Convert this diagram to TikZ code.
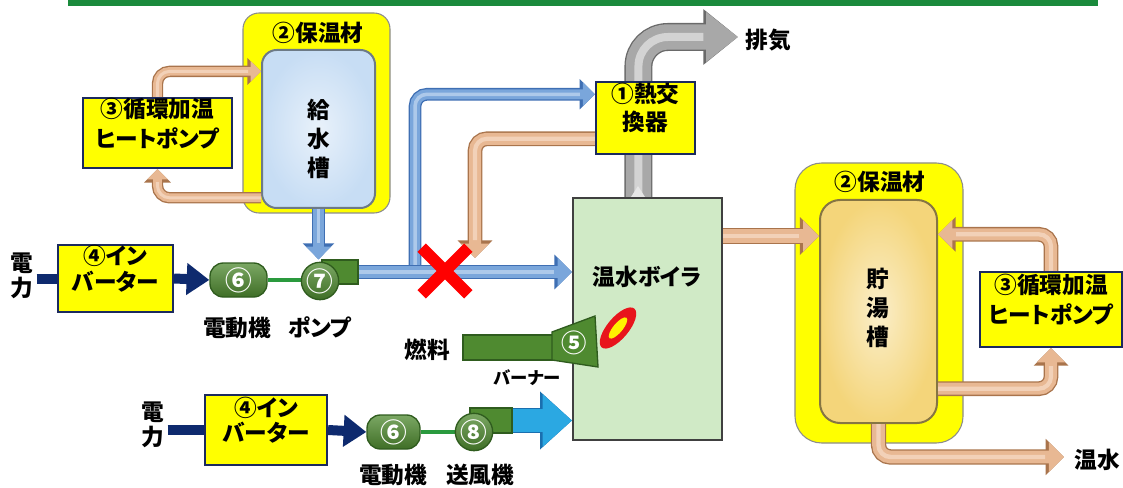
\documentclass[tikz,border=0pt]{standalone}
\usepackage{fontspec}
\setmainfont{Noto Sans CJK JP}[RawFeature=+palt]
\usepackage{tikz}
\usetikzlibrary{arrows.meta,positioning,fit,calc,shapes.misc}
\definecolor{PlantHeader}{HTML}{1A8A3C}
\definecolor{PlantYellow}{HTML}{FFFF00}
\definecolor{PlantNavy}{HTML}{1B2A5E}
\definecolor{PlantArrow}{HTML}{0E2A6E}
\definecolor{PlantTankBlue}{HTML}{C7DDF4}
\definecolor{PlantTankGold}{HTML}{F4D57A}
\definecolor{PlantBoiler}{HTML}{D0EAC6}
\definecolor{PlantMotor}{HTML}{4F8A30}
\definecolor{PlantMotorDark}{HTML}{2F5C1E}
\definecolor{PlantShaft}{HTML}{2A9A3E}
\definecolor{PlantBlue}{HTML}{7AA6DB}
\definecolor{PlantBlueDark}{HTML}{3F6FB3}
\definecolor{PlantBlueLight}{HTML}{D8E7F8}
\definecolor{PlantTan}{HTML}{E8B893}
\definecolor{PlantTanDark}{HTML}{A9744C}
\definecolor{PlantTanLight}{HTML}{FBE7D8}
\definecolor{PlantGrey}{HTML}{A8A8A8}
\definecolor{PlantGreyDark}{HTML}{6A6A6A}
\definecolor{PlantGreyLight}{HTML}{E6E6E6}
\definecolor{PlantAir}{HTML}{2BA8E2}
\definecolor{PlantAirDark}{HTML}{1A6FAF}
\definecolor{PlantRed}{HTML}{FF0000}
\definecolor{PlantFlame}{HTML}{E8141C}
\definecolor{PlantFlameCore}{HTML}{FFF200}

\begin{document}
\begin{tikzpicture}[
  x=0.75pt,
  y=-0.75pt,
  every node/.style={inner sep=0pt, font=\fontsize{17}{21}\selectfont\bfseries},
  insul/.style={draw=black!45, line width=0.8pt, fill=PlantYellow, rounded corners=12pt},
  tag/.style={draw=PlantNavy, line width=1.6pt, fill=PlantYellow, align=center},
  tank/.style={draw=#1!55!black, line width=1.5pt, inner color=#1!40!white, outer color=#1, rounded corners=11pt},
  digit/.style={text=white, font=\fontsize{20}{20}\selectfont\bfseries},
  motor/.style={draw=PlantMotorDark, line width=1pt, top color=PlantMotor!75!white, bottom color=PlantMotor!80!black, rounded corners=10pt, label={[digit]center:#1}},
  rotor/.style={circle, draw=PlantMotorDark, line width=1pt, top color=PlantMotor!75!white, bottom color=PlantMotor!80!black, minimum size=28pt, label={[digit]center:#1}},
  nozzle/.style={draw=PlantMotorDark, line width=1pt, fill=PlantMotor},
  shaft/.style={draw=PlantShaft, line width=2.5pt},
  pipe/.style n args={4}{draw=#1, line width=#3, rounded corners=9pt,
    -{Triangle[length=0pt 1.2, width=0pt 2.3]},
    preaction={draw=#2, line width=#3+2pt, -{Triangle[length=0pt 1.2, width=0pt 2.3]}},
    postaction={draw=#4, opacity=0.55, line width=0.35*#3, arrows=-, shorten >=1.5*#3}},
  bluepipe/.style={pipe={PlantBlue}{PlantBlueDark}{#1}{PlantBlueLight}},
  tanpipe/.style={pipe={PlantTan}{PlantTanDark}{#1}{PlantTanLight}},
  exhaust/.style={draw=PlantGrey, line width=19pt, rounded corners=22pt,
    -{Triangle[length=24pt, width=36pt]},
    preaction={draw=PlantGreyDark, line width=21pt, -{Triangle[length=26pt, width=40pt]}},
    postaction={draw=PlantGreyLight, opacity=0.7, line width=6pt, arrows=-, shorten >=26pt}},
  airflow/.style={draw=PlantAir, line width=17pt, -{Triangle[length=22pt, width=38pt]},
    preaction={draw=PlantAirDark, line width=19pt, -{Triangle[length=24pt, width=42pt]}}},
  power/.style={draw=PlantArrow, line width=7.5pt},
  drive/.style={draw=PlantArrow, line width=7.5pt, -{Triangle[length=17pt, width=23pt]}},
  valve/.style={cross out, draw=PlantRed, line width=9pt, minimum size=26pt}
]
\useasboundingbox (0,0) rectangle (1123,488);
\fill[PlantHeader] (68,0) rectangle (1098,6);

% feed water side
\node[insul, fit={(243,13) (390,213)}] (feedins) {};
\node (feedinsname) at (318,33) {②保温材};
\node[tank=PlantTankBlue, fit={(262,50) (375,208)}] (feedtank) {};
\node[align=center, font=\fontsize{17}{22}\selectfont\bfseries] (feedtankname) at (319,139) {給\\水\\槽};
\node[tag, fit={(83,98) (232,168)}, font=\fontsize{17}{22.5}\selectfont\bfseries] (hpL) {③循環加温\\ヒートポンプ};
\draw[tanpipe=6.5pt] (hpL.north) |- ($(feedtank.north west)!0.14!(feedtank.south west)$);
\draw[tanpipe=6.5pt] ($(feedtank.north west)!0.93!(feedtank.south west)$) -| (hpL.south);

\node[align=center, font=\fontsize{17}{19}\selectfont\bfseries] (pwrA) at (22,276) {電\\力};
\node[tag, fit={(58,245) (173,312)}, font=\fontsize{17}{19}\selectfont\bfseries] (invA) {④イン\\バーター};
\node[motor=⑥, fit={(210,263) (267,297)}] (motorA) {};
\node[nozzle, fit={(322,260) (358,284)}] (pumpout) {};
\draw[shaft] (motorA.east) -- (motorA.east -| pumpout.west);
\node[rotor=⑦] (pumpP) at (320,281) {};
\node (motorAname) at (237,328) {電動機};
\node (pumpname) at (320,327) {ポンプ};
\draw[power] (invA.west -| pwrA.east) ++(3,0) -- (invA.west);
\draw[drive] (invA.east) -- (motorA.west);
\draw[bluepipe=8pt] (feedtank.south) -- (feedtank.south |- pumpout.north);

% boiler with heat exchanger
\node[draw=black!75, line width=1.5pt, fill=PlantBoiler, fit={(573,198) (722,440)}] (boiler) {};
\node (boilername) at (647,277) {温水ボイラ};
\coordinate (exhEnd) at (738,37);
\draw[exhaust] ($(boiler.north west)!0.44!(boiler.north east)$) |- (exhEnd);
\fill[PlantGreyLight] (631,197) -- (645,197) -- (638,186) -- cycle;
\node (exhname) at (768,40) {排気};
\node[tag, fit={(596,82) (695,154)}] (hx) {①熱交\\換器};

\coordinate (tee) at (415,272);
\draw[bluepipe=7.5pt] (tee) |- ($(hx.north west)!0.18!(hx.south west)$);
\draw[bluepipe=9pt] (pumpout.east) -- (boiler.west |- pumpout.east);
\coordinate (dropEnd) at (475,258);
\draw[tanpipe=9pt] ($(hx.north west)!0.78!(hx.south west)$) -| (dropEnd);
\node[valve] (stop) at (445,271) {};

% burner and fuel
\node[nozzle, fit={(463,335) (555,360)}] (fuelpipe) {};
\node (fuelname) at (427,350) {燃料};
\filldraw[nozzle] (552,332) -- (595,316) -- (598,367) -- (552,360) -- cycle;
\node[digit, font=\fontsize{19}{19}\selectfont\bfseries] (burnernum) at (574,343) {⑤};
\node[font=\fontsize{13}{13}\selectfont\bfseries] (burnername) at (527,378) {バーナー};
\fill[PlantFlame, shift={(618,328)}, rotate=50] (0,0) ellipse [x radius=19pt, y radius=8pt];
\fill[PlantFlameCore, shift={(618,328)}, rotate=50] (0,0) ellipse [x radius=10pt, y radius=3.5pt];

% blower line
\node[align=center, font=\fontsize{17}{19}\selectfont\bfseries] (pwrB) at (153,425) {電\\力};
\node[tag, fit={(205,395) (327,465)}, font=\fontsize{17}{19}\selectfont\bfseries] (invB) {④イン\\バーター};
\node[motor=⑥, fit={(367,415) (420,449)}] (motorB) {};
\node[nozzle, fit={(470,408) (512,433)}] (fanout) {};
\draw[shaft] (motorB.east) -- (motorB.east -| fanout.west);
\node[rotor=⑧] (fanF) at (474,432) {};
\node (motorBname) at (393,475) {電動機};
\node (fanname) at (480,475) {送風機};
\draw[power] (invB.west -| pwrB.east) ++(3,0) -- (invB.west);
\draw[drive] (invB.east) -- (motorB.west);
\draw[airflow] (fanout.east) -- (boiler.west |- fanout.east);

% storage side
\node[insul, rounded corners=20pt, fit={(795,163) (963,443)}] (storeins) {};
\node (storeinsname) at (880,182) {②保温材};
\node[tank=PlantTankGold, rounded corners=15pt, fit={(820,200) (937,423)}] (store) {};
\node[align=center, font=\fontsize{17}{22}\selectfont\bfseries] (storename) at (878,308) {貯\\湯\\槽};
\node[tag, fit={(980,272) (1122,347)}, font=\fontsize{17}{22.5}\selectfont\bfseries] (hpR) {③循環加温\\ヒートポンプ};
\coordinate (bOut) at ($(boiler.north east)!0.16!(boiler.south east)$);
\draw[tanpipe=10pt] (bOut) -- (store.west |- bOut);
\draw[tanpipe=9pt] (hpR.north) |- ($(store.north east)!0.157!(store.south east)$);
\draw[tanpipe=9pt] ($(store.north east)!0.843!(store.south east)$) -| (hpR.south);
\coordinate (hwEnd) at (1064,457);
\draw[tanpipe=9.5pt] (store.south) |- (hwEnd);
\node (hwname) at (1097,460) {温水};
\end{tikzpicture}
\end{document}
